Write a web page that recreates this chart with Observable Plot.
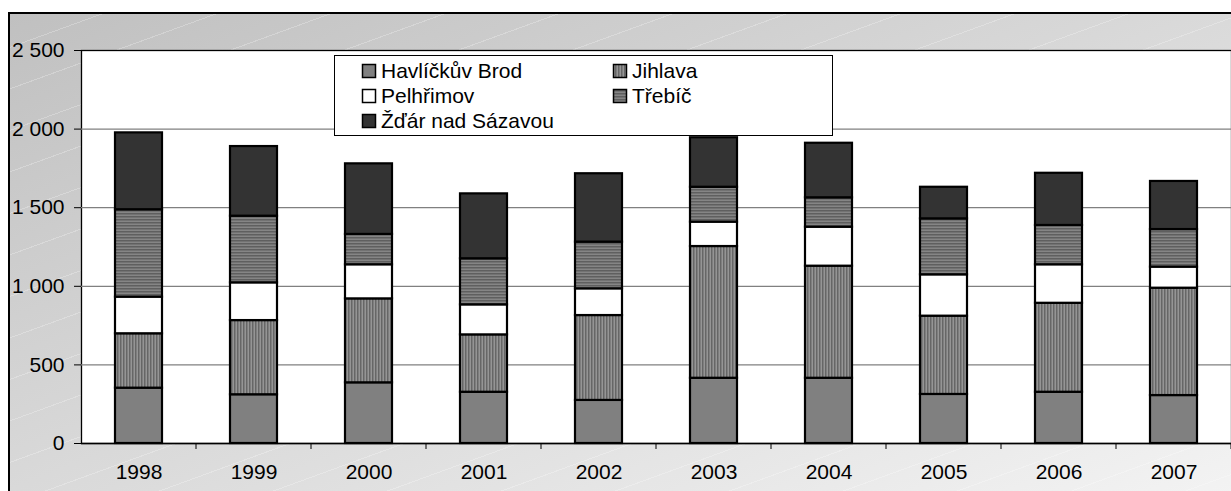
<!DOCTYPE html>
<html>
<head>
<meta charset="utf-8">
<script src="https://cdn.jsdelivr.net/npm/d3@7"></script>
<script src="https://cdn.jsdelivr.net/npm/@observablehq/plot@0.6"></script>
<style>
  html, body { margin: 0; padding: 0; background: #fff; }
  #wrap { position: relative; width: 1231px; height: 491px; overflow: hidden; font-family: "Liberation Sans", Arial, sans-serif; }
  #bg { position: absolute; left: 8px; top: 12px; width: 1240px; height: 500px; box-sizing: border-box;
        border: 2px solid #000;
        background:
          repeating-linear-gradient(-20deg, rgba(255,255,255,0) 0px, rgba(255,255,255,0) 38px, rgba(255,255,255,0.25) 38px, rgba(255,255,255,0.25) 39px),
          linear-gradient(to bottom right, #c0c0c0, #f4f4f4); }
  #chart { position: absolute; left: 0; top: 0; }
  #legend { position: absolute; left: 0; top: 0; }
</style>
</head>
<body>
<div id="wrap">
  <div id="bg"></div>
  <div id="chart"></div>
  <svg id="defs" width="0" height="0" style="position:absolute">
    <defs>
      <pattern id="pat-jihl" patternUnits="userSpaceOnUse" width="3" height="3">
        <rect width="3" height="3" fill="#7e7e7e"/>
        <rect x="0" width="1" height="3" fill="#666666"/>
        <rect x="2" width="1" height="3" fill="#959595"/>
      </pattern>
      <pattern id="pat-treb" patternUnits="userSpaceOnUse" width="3" height="3">
        <rect width="3" height="3" fill="#727272"/>
        <rect y="0" width="3" height="1" fill="#5f5f5f"/>
        <rect y="2" width="3" height="1" fill="#858585"/>
      </pattern>
    </defs>
  </svg>
  <svg id="legend" width="1231" height="491"></svg>
</div>
<script>
const years = ["1998","1999","2000","2001","2002","2003","2004","2005","2006","2007"];
const regions = ["Havlíčkův Brod","Jihlava","Pelhřimov","Třebíč","Žďár nad Sázavou"];
const havlickuvBrod = [352,310,386,326,274,415,415,312,326,305];
const jihlava       = [346,472,534,365,540,838,713,498,566,683];
const pelhrimov     = [233,240,217,191,170,155,248,263,245,134];
const trebic        = [556,424,193,293,297,222,187,356,250,239];
const zdar          = [489,443,449,413,435,315,347,201,332,306];
const yTicks = [0,500,1000,1500,2000,2500];

const seriesValues = [havlickuvBrod, jihlava, pelhrimov, trebic, zdar];
const data = [];
regions.forEach((r, i) => years.forEach((y, j) => data.push({year: y, region: r, value: seriesValues[i][j]})));

const fills = ["#808080", "url(#pat-jihl)", "#ffffff", "url(#pat-treb)", "#333333"];
const fmt = d3.formatLocale({thousands: " ", grouping: [3], decimal: ",", currency: ["", ""]}).format(",");

const chart = Plot.plot({
  width: 1231,
  height: 491,
  marginLeft: 81,
  marginRight: 0,
  marginTop: 50,
  marginBottom: 48,
  style: {background: "transparent", fontFamily: "'Liberation Sans', Arial, sans-serif", fontSize: "21px", color: "#000", overflow: "visible"},
  x: {domain: years, paddingInner: 0.59, paddingOuter: 0.295, label: null, tickSize: 0, tickPadding: 21},
  y: {domain: [0, 2500], ticks: yTicks, tickFormat: fmt, tickSize: 7, tickPadding: 10, label: null},
  color: {type: "ordinal", domain: regions, range: fills},
  marks: [
    Plot.frame({fill: "#ffffff", stroke: "#000", strokeWidth: 1.3}),
    Plot.ruleY(yTicks.slice(1, -1), {stroke: "#808080", strokeWidth: 1.3}),
    Plot.barY(data, {x: "year", y: "value", fill: "region", stroke: "#000", strokeWidth: 2.2, order: regions}),
    Plot.ruleY([0], {stroke: "#000", strokeWidth: 1.3})
  ]
});
document.getElementById("chart").appendChild(chart);

d3.select(chart).selectAll("text").attr("font-size", "21px").attr("fill", "#000");
d3.select(chart).selectAll("[aria-label='y-axis tick'] path, [aria-label='y-axis'] path").attr("stroke", "#000");

// x-axis category tick marks at band boundaries
const xs = chart.scale("x");
const ys = chart.scale("y");
const y0 = ys.apply(0);
const tg = d3.select(chart).append("g").attr("stroke", "#000").attr("stroke-width", 1);
years.forEach(yr => {
  const b = xs.apply(yr) + xs.bandwidth / 2 + xs.step / 2;
  tg.append("line").attr("x1", b).attr("x2", b).attr("y1", y0).attr("y2", y0 + 6);
});

// legend
const lg = d3.select("#legend");
const L = {x: 334, y: 55, w: 498, h: 80};
lg.append("rect").attr("x", L.x + 0.5).attr("y", L.y + 0.5).attr("width", L.w).attr("height", L.h)
  .attr("fill", "#fff").attr("stroke", "#000").attr("stroke-width", 1);
const pos = [[0,0],[1,0],[0,1],[1,1],[0,2]];
regions.forEach((r, i) => {
  const [c, row] = pos[i];
  const sx = L.x + 28 + c * 251;
  const cy = L.y + 16 + row * 25;
  lg.append("rect").attr("x", sx + 0.5).attr("y", cy - 6.5).attr("width", 13).attr("height", 13)
    .attr("fill", fills[i]).attr("stroke", "#000").attr("stroke-width", 1.5);
  lg.append("text").attr("x", sx + 19).attr("y", cy).attr("dy", "0.35em")
    .attr("font-family", "'Liberation Sans', Arial, sans-serif").attr("font-size", "21px").attr("fill", "#000")
    .text(r);
});
</script>
</body>
</html>
